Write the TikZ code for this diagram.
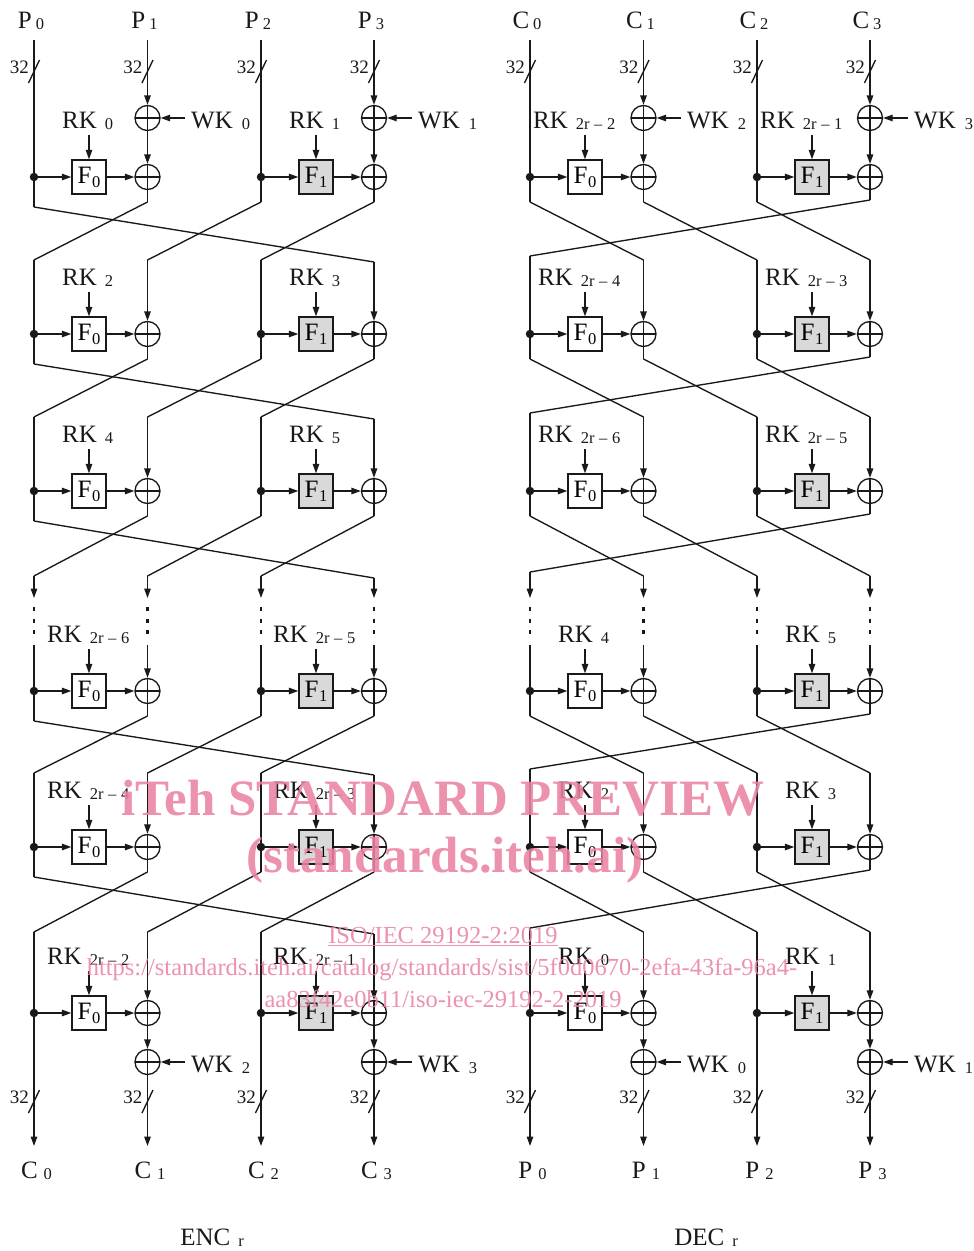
\documentclass[tikz,border=0pt]{standalone}
\usepackage{fontspec}
\setmainfont{Liberation Serif}
\newfontfamily\wmfont{Liberation Serif}
\usetikzlibrary{arrows.meta}
\definecolor{fgray}{RGB}{217,217,217}
\definecolor{wmpink}{RGB}{233,131,162}
\definecolor{ink}{RGB}{25,25,25}
\newcommand{\bigf}{\fontsize{25}{29}\selectfont}
\newcommand{\smf}{\fontsize{16.5}{19}\selectfont}
\newcommand{\lbl}[3]{#1\hspace{#2}\raisebox{-1.5pt}{\smf #3}}
\newcommand{\fsub}[1]{\hspace{0.5pt}\raisebox{-4pt}{\smf #1}}
\begin{document}
\begin{tikzpicture}[x=1pt,y=-1pt,
  wire/.style={line width=1.35pt,draw=ink},
  arr/.style={wire,-{Triangle[length=9.5pt,width=6.5pt]}},
  xorn/.style={circle,draw=ink,line width=1.35pt,minimum size=25pt,inner sep=0pt,
    path picture={\draw[line width=1.35pt,ink] (path picture bounding box.north)--(path picture bounding box.south) (path picture bounding box.west)--(path picture bounding box.east);}},
  fzero/.style={draw=ink,line width=1.35pt,minimum width=34pt,minimum height=34pt,inner sep=0pt,font=\bigf},
  fone/.style={fzero,fill=fgray},
  dotn/.style={circle,fill=ink,inner sep=0pt,minimum size=8.5pt},
  lab/.style={font=\bigf,inner sep=0pt,text=ink},
  bits/.style={font=\fontsize{19}{21}\selectfont,inner sep=0pt,text=ink},
  dotseg/.style={line width=2.8pt,draw=ink,dash pattern=on 4pt off 7.5pt},
  wm/.style={text=wmpink,inner sep=0pt,opacity=0.88}
]
\useasboundingbox (0,0) rectangle (974,1251);

% ---------- rounds ----------
\foreach \s/\xo in {E/34,D/530}{
  \foreach \rr/\yy in {1/177,2/334,3/491,4/691,5/847,6/1013}{
    \node[dotn] (\s\rr d0) at (\xo,\yy) {};
    \node[dotn] (\s\rr d2) at (\xo+227,\yy) {};
    \node[fzero] (\s\rr f0) at (\xo+55,\yy) {F\fsub{0}};
    \node[fone] (\s\rr f1) at (\xo+282,\yy) {F\fsub{1}};
    \node[xorn] (\s\rr x1) at (\xo+113.5,\yy) {};
    \node[xorn] (\s\rr x3) at (\xo+340,\yy) {};
    \coordinate (\s\rr k0) at (\xo+55,\yy-42);
    \coordinate (\s\rr k1) at (\xo+282,\yy-42);
    \draw[arr] (\s\rr k0) -- (\s\rr f0);
    \draw[arr] (\s\rr k1) -- (\s\rr f1);
    \draw[arr] (\s\rr d0) -- (\s\rr f0);
    \draw[arr] (\s\rr f0) -- (\s\rr x1);
    \draw[arr] (\s\rr d2) -- (\s\rr f1);
    \draw[arr] (\s\rr f1) -- (\s\rr x3);
  }
}

% ---------- bottoms of rows 1-5 ----------
\foreach \rr/\yy in {1/177,2/334,3/491,4/691,5/847}{
  \coordinate (E\rr b0) at (34,\yy+30);
  \coordinate (E\rr b1) at (147.5,\yy+25);
  \coordinate (E\rr b2) at (261,\yy+25);
  \coordinate (E\rr b3) at (374,\yy+25);
  \coordinate (D\rr b0) at (530,\yy+25);
  \coordinate (D\rr b1) at (643.5,\yy+25);
  \coordinate (D\rr b2) at (757,\yy+25);
  \coordinate (D\rr b3) at (870,\yy+23);
  \foreach \s in {E,D}{
    \draw[wire] (\s\rr d0) -- (\s\rr b0);
    \draw[wire] (\s\rr x1) -- (\s\rr b1);
    \draw[wire] (\s\rr d2) -- (\s\rr b2);
    \draw[wire] (\s\rr x3) -- (\s\rr b3);
  }
}

% ---------- tops of rows 2-6 ----------
\foreach \rr/\ty in {2/260,3/417,4/576,5/773,6/932}{
  \coordinate (E\rr t0) at (34,\ty);
  \coordinate (E\rr t1) at (147.5,\ty);
  \coordinate (E\rr t2) at (261,\ty);
  \coordinate (E\rr t3) at (374,\ty+2);
  \coordinate (D\rr t0) at (530,\ty-4);
  \coordinate (D\rr t1) at (643.5,\ty);
  \coordinate (D\rr t2) at (757,\ty);
  \coordinate (D\rr t3) at (870,\ty);
}
\foreach \rr/\ty in {2/260,3/417,5/773,6/932}{
  \coordinate (E\rr s0) at (34,\ty);
  \coordinate (E\rr s1) at (147.5,\ty);
  \coordinate (E\rr s2) at (261,\ty);
  \coordinate (E\rr s3) at (374,\ty+2);
  \coordinate (D\rr s0) at (530,\ty-4);
  \coordinate (D\rr s1) at (643.5,\ty);
  \coordinate (D\rr s2) at (757,\ty);
  \coordinate (D\rr s3) at (870,\ty);
}
% row 4: arrows, dotted gap, restart
\foreach \s/\xo in {E/34,D/530}{
  \foreach \i/\dx in {0/0,1/113.5,2/227,3/340}{
    \coordinate (\s4a\i) at (\xo+\dx,598);
    \coordinate (\s4u\i) at (\xo+\dx,607);
    \coordinate (\s4v\i) at (\xo+\dx,634);
    \coordinate (\s4s\i) at (\xo+\dx,645);
    \draw[arr] (\s4t\i) -- (\s4a\i);
    \draw[dotseg] (\s4u\i) -- (\s4v\i);
  }
}
\foreach \rr in {2,3,4,5,6}{
  \foreach \s in {E,D}{
    \draw[wire] (\s\rr s0) -- (\s\rr d0);
    \draw[arr] (\s\rr s1) -- (\s\rr x1);
    \draw[wire] (\s\rr s2) -- (\s\rr d2);
    \draw[arr] (\s\rr s3) -- (\s\rr x3);
  }
}

% ---------- crossings ----------
\foreach \rr/\nn in {1/2,2/3,3/4,4/5,5/6}{
  \draw[wire] (E\rr b1) -- (E\nn t0);
  \draw[wire] (E\rr b2) -- (E\nn t1);
  \draw[wire] (E\rr b3) -- (E\nn t2);
  \draw[wire] (E\rr b0) -- (E\nn t3);
  \draw[wire] (D\rr b0) -- (D\nn t1);
  \draw[wire] (D\rr b1) -- (D\nn t2);
  \draw[wire] (D\rr b2) -- (D\nn t3);
  \draw[wire] (D\rr b3) -- (D\nn t0);
}

% ---------- inputs, whitening, outputs ----------
\foreach \s/\xo/\tl/\bl/\wka/\wkb/\wkc/\wkd in {E/34/P/C/0/1/2/3, D/530/C/P/2/3/0/1}{
  \foreach \i/\dx in {0/0,1/113.5,2/227,3/340}{
    \coordinate (\s i\i) at (\xo+\dx,40);
    \coordinate (\s o\i) at (\xo+\dx,1146);
    \node[lab,anchor=base] (\s in\i) at (\xo+\dx-3,28) {\lbl{\tl}{4pt}{\i}};
    \node[lab,anchor=base] (\s out\i) at (\xo+\dx+2.5,1178) {\lbl{\bl}{6pt}{\i}};
    \node[bits,anchor=east] (\s bt\i) at (\xo+\dx-5,67) {32};
    \node[bits,anchor=east] (\s bb\i) at (\xo+\dx-5,1097) {32};
    \draw[wire] (\xo+\dx-5.5,83) -- (\xo+\dx+5.5,60);
    \draw[wire] (\xo+\dx-5.5,1113) -- (\xo+\dx+5.5,1090);
  }
  \node[xorn] (\s w1) at (\xo+113.5,118) {};
  \node[xorn] (\s w3) at (\xo+340,118) {};
  \node[xorn] (\s wb1) at (\xo+113.5,1062) {};
  \node[xorn] (\s wb3) at (\xo+340,1062) {};
  \coordinate (\s wk1) at (\xo+151,118);
  \coordinate (\s wk3) at (\xo+377.5,118);
  \coordinate (\s wkb1) at (\xo+151,1062);
  \coordinate (\s wkb3) at (\xo+377.5,1062);
  \node[lab,anchor=base west] (\s wl1) at (\xo+157,128) {\lbl{WK}{9pt}{\wka}};
  \node[lab,anchor=base west] (\s wl3) at (\xo+384,128) {\lbl{WK}{9pt}{\wkb}};
  \node[lab,anchor=base west] (\s wlb1) at (\xo+157,1072) {\lbl{WK}{9pt}{\wkc}};
  \node[lab,anchor=base west] (\s wlb3) at (\xo+384,1072) {\lbl{WK}{9pt}{\wkd}};
  \draw[arr] (\s wk1) -- (\s w1);
  \draw[arr] (\s wk3) -- (\s w3);
  \draw[arr] (\s wkb1) -- (\s wb1);
  \draw[arr] (\s wkb3) -- (\s wb3);
  % round 1 tops
  \draw[wire] (\s i0) -- (\s1d0);
  \draw[wire] (\s i2) -- (\s1d2);
  \draw[arr] (\s i1) -- (\s w1);
  \draw[arr] (\s w1) -- (\s1x1);
  \draw[arr] (\s i3) -- (\s w3);
  \draw[arr] (\s w3) -- (\s1x3);
  % round 6 bottoms
  \draw[arr] (\s6d0) -- (\s o0);
  \draw[arr] (\s6x1) -- (\s wb1);
  \draw[arr] (\s wb1) -- (\s o1);
  \draw[arr] (\s6d2) -- (\s o2);
  \draw[arr] (\s6x3) -- (\s wb3);
  \draw[arr] (\s wb3) -- (\s o3);
}

% ---------- round keys ----------
\foreach \nm/\xx/\yy/\sb in {
  E1/62/128/0, E1b/289/128/1, E2/62/285/2, E2b/289/285/3, E3/62/442/4, E3b/289/442/5,
  E4/47/642/{2r\;--\;6}, E4b/273/642/{2r\;--\;5}, E5/47/798/{2r\;--\;4}, E5b/273/798/{2r\;--\;3},
  E6/47/964/{2r\;--\;2}, E6b/273/964/{2r\;--\;1},
  D1/533/128/{2r\;--\;2}, D1b/760/128/{2r\;--\;1}, D2/538/285/{2r\;--\;4}, D2b/765/285/{2r\;--\;3},
  D3/538/442/{2r\;--\;6}, D3b/765/442/{2r\;--\;5},
  D4/558/642/4, D4b/785/642/5, D5/558/798/2, D5b/785/798/3, D6/558/964/0, D6b/785/964/1}{
  \node[lab,anchor=base west] (rk\nm) at (\xx,\yy) {\lbl{RK}{8pt}{\sb}};
}

% ---------- titles ----------
\node[lab,anchor=base] (enc) at (212,1245) {\lbl{ENC}{8pt}{r}};
\node[lab,anchor=base] (dec) at (706,1245) {\lbl{DEC}{8pt}{r}};

% ---------- watermark ----------
\node[wm,anchor=base,font=\wmfont\bfseries\fontsize{51}{51}\selectfont] (wm1) at (443,815) {iTeh STANDARD PREVIEW};
\node[wm,anchor=base,font=\wmfont\bfseries\fontsize{51}{51}\selectfont] (wm2) at (445,872) {(standards.iteh.ai)};
\node[wm,anchor=base,font=\wmfont\fontsize{24.5}{26}\selectfont] (wm3) at (443,943) {\underline{ISO/IEC 29192-2:2019}};
\node[wm,anchor=base,font=\wmfont\fontsize{24.5}{26}\selectfont] (wm4) at (442,975) {https://standards.iteh.ai/catalog/standards/sist/5f0d0670-2efa-43fa-96a4-};
\node[wm,anchor=base,font=\wmfont\fontsize{24.5}{26}\selectfont] (wm5) at (443,1007) {aa83f42e0b11/iso-iec-29192-2-2019};
\end{tikzpicture}
\end{document}
